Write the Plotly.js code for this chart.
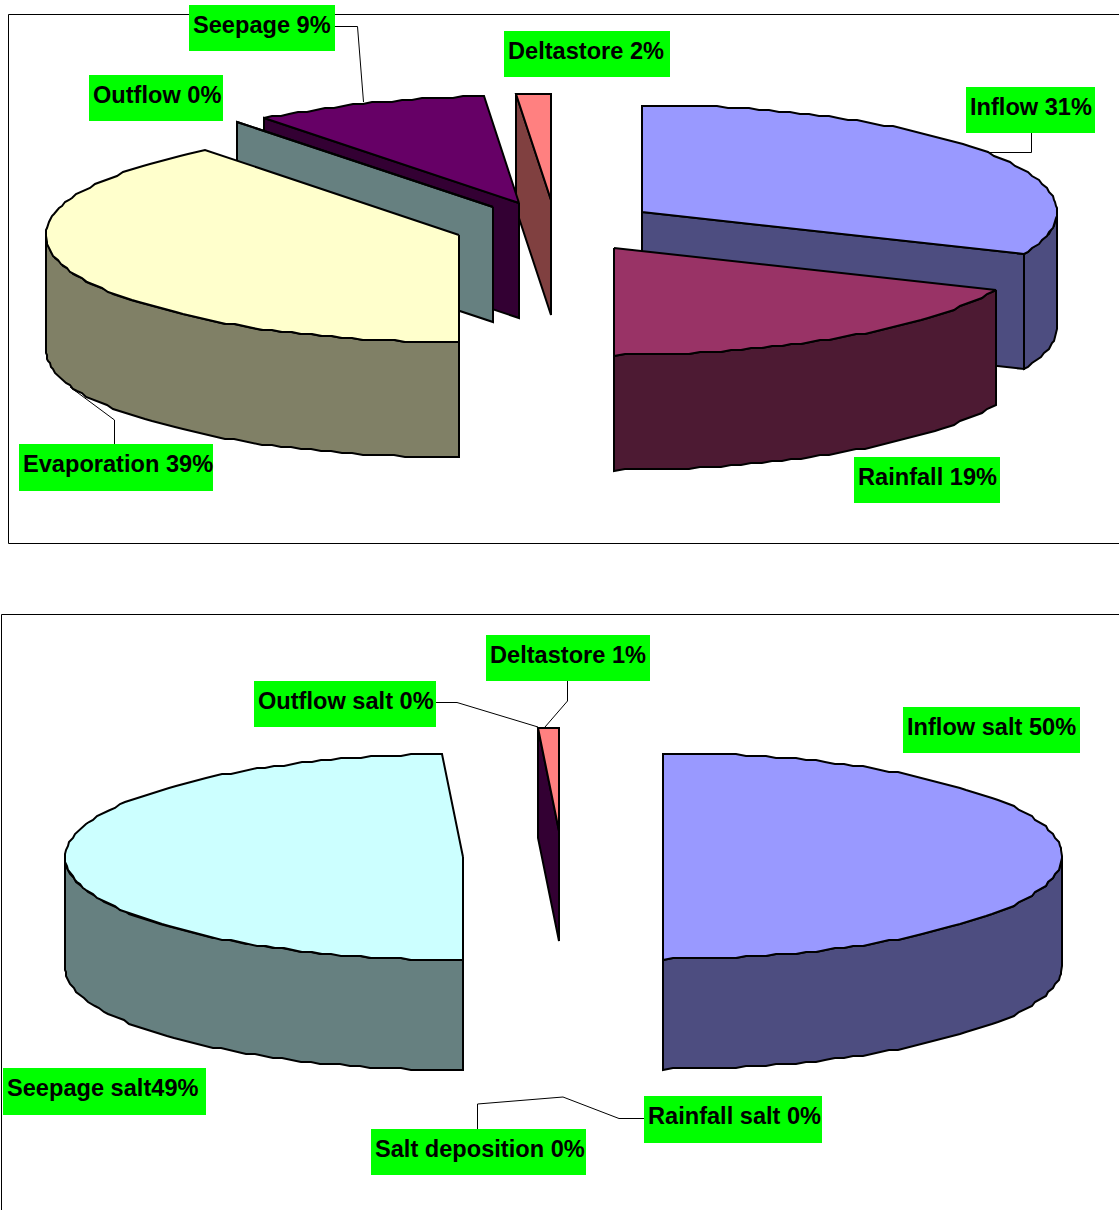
<!DOCTYPE html>
<html>
<head>
<meta charset="utf-8">
<script src="https://cdn.plot.ly/plotly-3.0.1.min.js"></script>
<style>html,body{margin:0;padding:0;background:#fff}#chart{width:1119px;height:1210px}</style>
</head>
<body>
<div id="chart"></div>
<script>
// ---- Data (percent of the total) ----
const waterCategories = ["Inflow", "Rainfall", "Evaporation", "Outflow", "Seepage", "Deltastore"];
const waterValues = [31.4, 18.6, 39.44, 0.02, 9.18, 1.36];
const waterLabels = ["Inflow 31%", "Rainfall 19%", "Evaporation 39%", "Outflow 0%", "Seepage 9%", "Deltastore 2%"];

const saltCategories = ["Inflow salt", "Rainfall salt", "Salt deposition", "Seepage salt", "Outflow salt", "Deltastore"];
const saltValues = [50, 0, 0, 49.17, 0, 0.83];
const saltLabels = ["Inflow salt 50%", "Rainfall salt 0%", "Salt deposition 0%", "Seepage salt49%", "Outflow salt 0%", "Deltastore 1%"];

// ---- Styles ----
const waterTop = ["#9999FF", "#993366", "#FFFFCC", "#CCFFFF", "#660066", "#FF8080"];
const waterSide = ["#4D4D80", "#4D1A33", "#808066", "#668080", "#330033", "#804040"];
const saltTop = ["#9999FF", "#993366", "#FFFFCC", "#CCFFFF", "#660066", "#FF8080"];
const saltSide = ["#4D4D80", "#4D1A33", "#808066", "#668080", "#330033", "#330033"];

// ---- Layout of the two exploded pies (pixel-scaled axes) ----
const waterPie = {rx: [415, 415, 413, 415, 415, 415], ry: 107, depth: 115,
  apexX: [642, 614, 459, 493, 519, 551], apexY: [212, 248, 235, 207, 203, 200],
  order: [5, 4, 3, 2, 0, 1]};
const saltPie = {rx: [399, 0, 0, 398, 0, 398], ry: 103, depth: 110,
  apexX: [663, 0, 0, 463, 0, 559], apexY: [856, 0, 0, 857, 0, 831],
  order: [5, 3, 0]};

// The source outline is a slightly stepped polyline
const snapX = v => Math.round(v);
const snapY = v => Math.round(v / 2) * 2;

function rim(p, i, t, dz) {
  const r = t * Math.PI / 180;
  return [snapX(p.apexX[i] + p.rx[i] * Math.sin(r)), snapY(p.apexY[i] - p.ry * Math.cos(r)) + dz];
}
function arc(p, i, t0, t1, dz) {
  const n = Math.max(1, Math.ceil((t1 - t0) / 1.5));
  const out = [];
  for (let k = 0; k <= n; k++) out.push(rim(p, i, t0 + (t1 - t0) * k / n, dz));
  return out;
}
function face(pts, color) {
  const xs = pts.map(q => q[0]), ys = pts.map(q => q[1]);
  xs.push(xs[0]); ys.push(ys[0]);
  return {type: "scatter", mode: "lines", x: xs, y: ys, fill: "toself", fillcolor: color,
          line: {color: "#000", width: 2}, hoverinfo: "skip", showlegend: false};
}
function pieTraces(values, top, side, p) {
  const traces = [], start = [];
  let acc = 0;
  values.forEach(v => { start.push(acc * 3.6); acc += v; });
  p.order.forEach(i => {
    const t0 = start[i], t1 = start[i] + values[i] * 3.6;
    const ax = p.apexX[i], ay = p.apexY[i];
    if (t0 > 180 && t0 < 360) {           // cut face looking at the viewer (left side)
      const r = rim(p, i, t0, 0);
      traces.push(face([[ax, ay], r, [r[0], r[1] + p.depth], [ax, ay + p.depth]], side[i]));
    }
    if (t1 > 90 && t1 < 180) {            // cut face looking at the viewer (right side)
      const r = rim(p, i, t1, 0);
      traces.push(face([[ax, ay], r, [r[0], r[1] + p.depth], [ax, ay + p.depth]], side[i]));
    }
    const w0 = Math.max(t0, 90), w1 = Math.min(t1, 270);
    if (w1 > w0) {                        // outer wall
      traces.push(face(arc(p, i, w0, w1, 0).concat(arc(p, i, w0, w1, p.depth).reverse()), side[i]));
    }
    traces.push(face([[ax, ay]].concat(arc(p, i, t0, t1, 0)), top[i]));
  });
  return traces;
}

// ---- Label boxes: [x0, y0, x1, y1] ----
const waterBoxes = [[966, 87, 1095, 133], [854, 457, 1000, 503], [19, 444, 213, 491],
                    [89, 75, 223, 121], [189, 5, 335, 51], [504, 31, 670, 77]];
const saltBoxes = [[903, 707, 1080, 753], [644, 1096, 822, 1143], [371, 1129, 586, 1175],
                   [3, 1068, 206, 1115], [254, 681, 436, 727], [486, 635, 650, 681]];

const leaderPaths = [
  "M335,26.5 L357.5,26.5 L363.5,102",
  "M1031.5,133 L1031.5,152.5 L987,152.5",
  "M114.5,444 L114.5,420 L70,387",
  "M567.5,681 L567.5,701 L545,727",
  "M436,702.5 L457,702.5 L538,727",
  "M644,1118.5 L619,1118.5 L563,1097 L477.5,1104 L477.5,1129"
];
const framePaths = ["M1119,14.5 L8.5,14.5 L8.5,543.5 L1119,543.5", "M1119,614.5 L1.5,614.5 L1.5,1210"];

const shapes = [];
framePaths.concat(leaderPaths).forEach(d => shapes.push({type: "path", path: d, xref: "x", yref: "y",
  layer: "above", line: {color: "#000", width: 1}}));
const annotations = [];
function addLabels(labels, boxes) {
  labels.forEach((txt, i) => {
    const b = boxes[i];
    shapes.push({type: "rect", x0: b[0], y0: b[1], x1: b[2], y1: b[3], xref: "x", yref: "y",
      layer: "above", fillcolor: "#00FF00", line: {width: 0}});
    annotations.push({x: b[0] + 3.5, y: b[1] + 19.5, xref: "x", yref: "y", xanchor: "left", yanchor: "middle",
      text: "<b>" + txt + "</b>", showarrow: false, borderpad: 0, borderwidth: 0,
      font: {family: "Liberation Sans, Arial, sans-serif", size: 23.6, color: "#000"}});
  });
}
addLabels(waterLabels, waterBoxes);
addLabels(saltLabels, saltBoxes);

const data = pieTraces(waterValues, waterTop, waterSide, waterPie)
  .concat(pieTraces(saltValues, saltTop, saltSide, saltPie));

const axis = {visible: false, fixedrange: true, showgrid: false, zeroline: false};
const layout = {
  width: 1119, height: 1210,
  margin: {l: 0, r: 0, t: 0, b: 0, pad: 0},
  paper_bgcolor: "#fff", plot_bgcolor: "#fff", showlegend: false,
  xaxis: Object.assign({range: [0, 1119]}, axis),
  yaxis: Object.assign({range: [1210, 0]}, axis),
  shapes: shapes, annotations: annotations
};
Plotly.newPlot("chart", data, layout, {displayModeBar: false, staticPlot: true});
</script>
</body>
</html>
